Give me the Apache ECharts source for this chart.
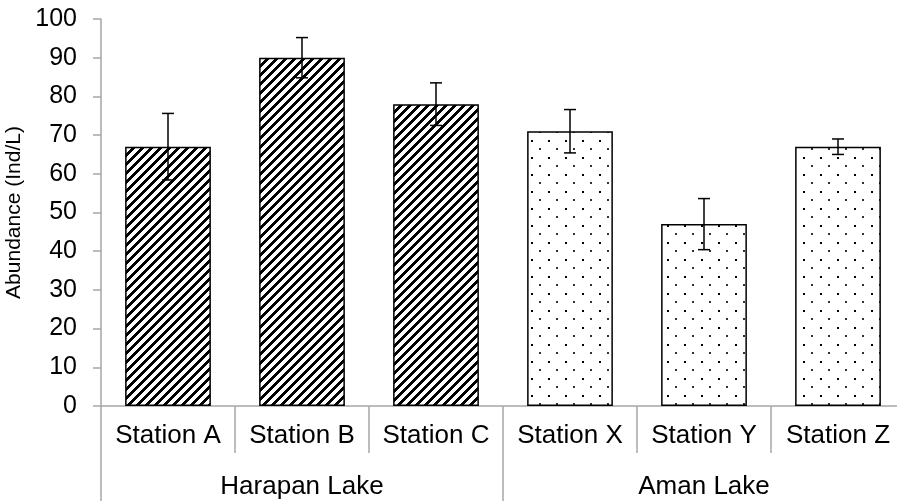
<!DOCTYPE html>
<html>
<head>
<meta charset="utf-8">
<script src="https://cdn.jsdelivr.net/npm/echarts@6/dist/echarts.min.js"></script>
<style>html,body{margin:0;padding:0;background:#fff;}#c{width:897px;height:501px;}</style>
</head>
<body>
<div id="c"></div>
<script>
const stations = ['Station A','Station B','Station C','Station X','Station Y','Station Z'];
const lakes = ['Harapan Lake','Aman Lake'];
const stationLake = [0,0,0,1,1,1];
const abundance = [67, 90, 78, 71, 47, 67];
const errors = [8.6, 5.2, 5.5, 5.6, 6.6, 2];

function stripePattern(){
  const s = 9;
  const c = document.createElement('canvas');
  c.width = s; c.height = s;
  const g = c.getContext('2d');
  const img = g.createImageData(s, s);
  for (let y = 0; y < s; y++) {
    for (let x = 0; x < s; x++) {
      const d = (x + y) % s;
      const black = d < 4;
      const i = (y * s + x) * 4;
      const v = black ? 0 : 255;
      img.data[i] = v; img.data[i+1] = v; img.data[i+2] = v; img.data[i+3] = 255;
    }
  }
  g.putImageData(img, 0, 0);
  return c;
}
function dotPattern(){
  const s = 17;
  const c = document.createElement('canvas');
  c.width = s; c.height = s;
  const g = c.getContext('2d');
  g.fillStyle = '#fff'; g.fillRect(0,0,s,s);
  g.fillStyle = '#000';
  g.fillRect(4, 4, 2, 2);
  g.fillStyle = '#333';
  g.fillRect(12, 12, 2, 2);
  return c;
}
const patterns = [
  {image: stripePattern(), repeat: 'repeat'},
  {image: dotPattern(), repeat: 'repeat'}
];

const chart = echarts.init(document.getElementById('c'), null, {renderer: 'canvas'});
const font = 'Liberation Sans, Arial, sans-serif';
chart.setOption({
  animation: false,
  backgroundColor: '#fff',
  grid: {left: 101, top: 19, right: -8, bottom: 95, containLabel: false, outerBoundsMode: 'none'},
  xAxis: [
    {
      type: 'category', data: stations, position: 'bottom',
      axisLine: {show: true, lineStyle: {color: '#a6a6a6', width: 1.5}},
      axisTick: {show: true, length: 47, alignWithLabel: false, lineStyle: {color: '#a6a6a6', width: 1.5}},
      axisLabel: {color: '#000', fontSize: 26, fontFamily: font, margin: 17, interval: 0},
      splitLine: {show: false}
    },
    {
      type: 'category', data: lakes, position: 'bottom',
      axisLine: {show: false},
      axisTick: {show: true, length: 95, alignWithLabel: false, lineStyle: {color: '#a6a6a6', width: 1.5}},
      axisLabel: {color: '#000', fontSize: 26, fontFamily: font, margin: 68, interval: 0},
      splitLine: {show: false}
    }
  ],
  yAxis: {
    type: 'value', min: 0, max: 100, interval: 10,
    name: 'Abundance (Ind/L)', nameLocation: 'middle', nameGap: 70, nameRotate: 90,
    nameTextStyle: {color: '#000', fontSize: 21, fontFamily: font},
    axisLine: {show: true, lineStyle: {color: '#a6a6a6', width: 1.5}},
    axisTick: {show: true, inside: false, length: 8, lineStyle: {color: '#a6a6a6', width: 1.5}},
    axisLabel: {color: '#000', fontSize: 25, fontFamily: font, margin: 24},
    splitLine: {show: false}
  },
  series: [
    {
      type: 'bar', xAxisIndex: 0, barWidth: '64%',
      data: abundance.map((v, i) => ({
        value: v,
        itemStyle: {color: patterns[stationLake[i]], borderColor: '#000', borderWidth: 1.5}
      }))
    },
    {
      type: 'custom', xAxisIndex: 0,
      data: abundance.map((v, i) => [i, v - errors[i], v + errors[i]]),
      renderItem: function(params, api){
        const lo = api.coord([api.value(0), api.value(1)]);
        const hi = api.coord([api.value(0), api.value(2)]);
        const hw = 6;
        const st = {stroke: '#000', lineWidth: 1.5};
        return {type: 'group', children: [
          {type: 'line', shape: {x1: lo[0], y1: lo[1], x2: hi[0], y2: hi[1]}, style: st},
          {type: 'line', shape: {x1: lo[0]-hw, y1: lo[1], x2: lo[0]+hw, y2: lo[1]}, style: st},
          {type: 'line', shape: {x1: hi[0]-hw, y1: hi[1], x2: hi[0]+hw, y2: hi[1]}, style: st}
        ]};
      },
      z: 10
    }
  ]
});
</script>
</body>
</html>
